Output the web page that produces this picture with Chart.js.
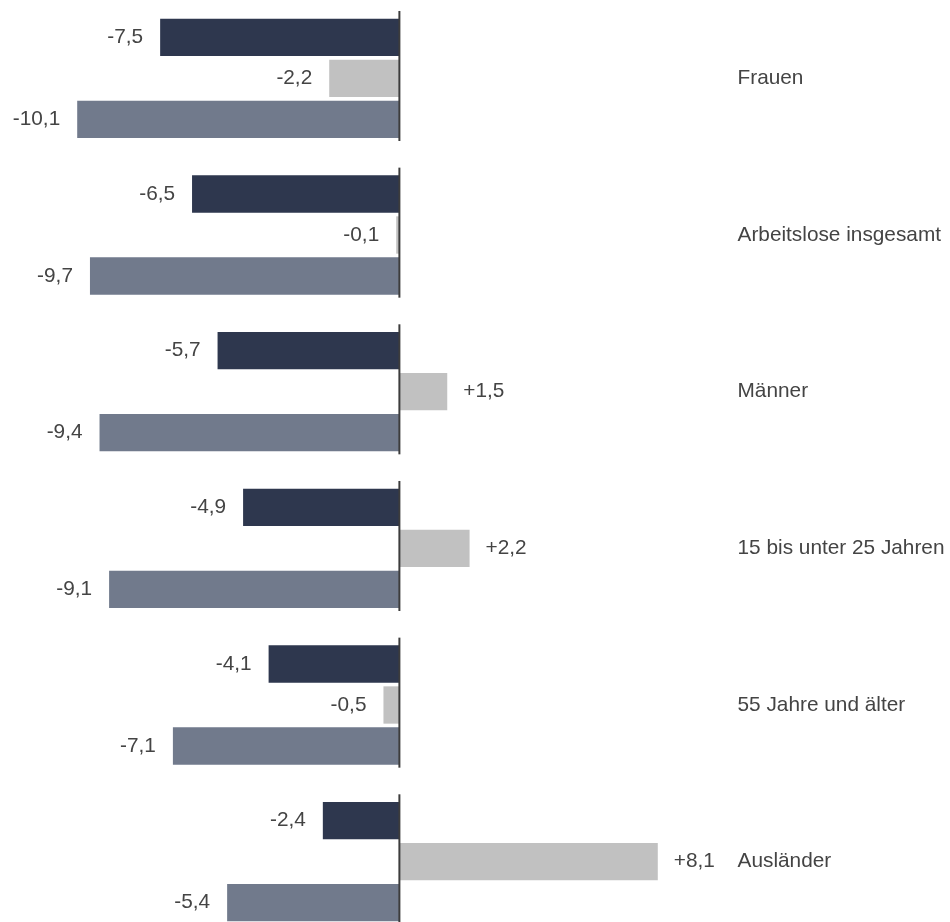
<!DOCTYPE html>
<html lang="de">
<head>
<meta charset="utf-8">
<title>Veränderung Arbeitslose</title>
<script src="https://cdn.jsdelivr.net/npm/chart.js@4"></script>
<style>
  html, body { margin: 0; padding: 0; background: #fff; overflow: hidden; }
  .wrap { width: 950px; height: 922px; overflow: hidden; }
</style>
</head>
<body>
<div class="wrap">
  <canvas id="bar-chart" width="950" height="940"></canvas>
</div>
<script>
const categories = [
  "Frauen",
  "Arbeitslose insgesamt",
  "Männer",
  "15 bis unter 25 Jahren",
  "55 Jahre und älter",
  "Ausländer"
];
const seriesA = [-7.5, -6.5, -5.7, -4.9, -4.1, -2.4];
const seriesB = [-2.2, -0.1, 1.5, 2.2, -0.5, 8.1];
const seriesC = [-10.1, -9.7, -9.4, -9.1, -7.1, -5.4];

const textColor = "#444444";
const fontFamily = "'Liberation Sans', Arial, sans-serif";

function fmt(v) {
  const s = Math.abs(v).toFixed(1).replace(".", ",");
  return (v > 0 ? "+" : "-") + s;
}

// value labels, category names and the short zero line per group
const annotate = {
  id: "annotate",
  afterDatasetsDraw(chart) {
    const ctx = chart.ctx;
    const x = chart.scales.x;
    const y = chart.scales.y;
    const zero = x.getPixelForValue(0);
    const pitch = y.getPixelForValue(1) - y.getPixelForValue(0);

    ctx.save();
    ctx.font = "20.8px " + fontFamily;
    ctx.fillStyle = textColor;
    ctx.textBaseline = "middle";

    chart.data.datasets.forEach((ds, di) => {
      chart.getDatasetMeta(di).data.forEach((bar, i) => {
        const v = ds.data[i];
        if (v < 0) {
          ctx.textAlign = "right";
          ctx.fillText(fmt(v), bar.x - 17, bar.y);
        } else {
          ctx.textAlign = "left";
          ctx.fillText(fmt(v), bar.x + 16, bar.y);
        }
      });
    });

    ctx.textAlign = "left";
    categories.forEach((c, i) => {
      ctx.fillText(c, x.getPixelForValue(10.6), y.getPixelForValue(i));
    });

    ctx.strokeStyle = "#3c3c3c";
    ctx.lineWidth = 2;
    categories.forEach((c, i) => {
      const cy = y.getPixelForValue(i);
      ctx.beginPath();
      ctx.moveTo(zero, cy - pitch * 0.43);
      ctx.lineTo(zero, cy + pitch * 0.40);
      ctx.stroke();
    });
    ctx.restore();
  }
};

const config = {
  type: "bar",
  data: {
    labels: categories,
    datasets: [
      { data: seriesA, backgroundColor: "#2e374e" },
      { data: seriesB, backgroundColor: "#c1c1c1" },
      { data: seriesC, backgroundColor: "#717a8c" }
    ]
  },
  options: {
    indexAxis: "y",
    responsive: false,
    animation: false,
    events: [],
    layout: { padding: 0 },
    datasets: {
      bar: { categoryPercentage: 0.785, barPercentage: 0.91 }
    },
    scales: {
      x: { display: false, min: -12.52, max: 17.26 },
      y: { display: false }
    },
    plugins: {
      legend: { display: false },
      tooltip: { enabled: false },
      title: { display: false }
    }
  },
  plugins: [annotate]
};

const ctx = document.getElementById("bar-chart").getContext("2d");
window.myBar = new Chart(ctx, config);
</script>
</body>
</html>
